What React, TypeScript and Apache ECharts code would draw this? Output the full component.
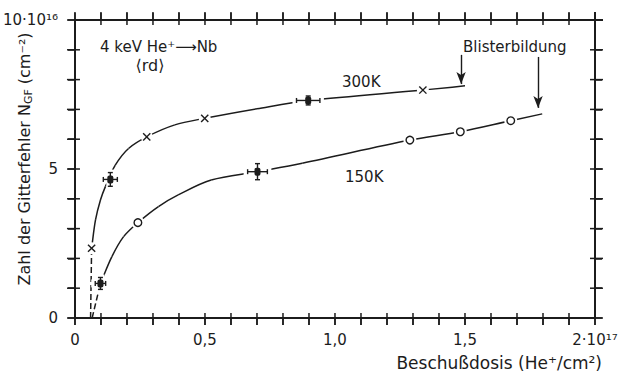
import React, { useEffect, useRef } from 'react';
import * as echarts from 'echarts';

// ---- data (x in 10^17 He+/cm², y in 10^16 cm⁻²) ----
const X_TICKS = [0, 0.5, 1, 1.5, 2];
const X_TICK_LABELS = ['0', '0,5', '1,0', '1,5', '2·10¹⁷'];
const Y_TICKS = [0, 5, 10];
const Y_TICK_LABELS = ['0', '5', '10·10¹⁶'];
const X_MINOR_STEP = 0.1;
const Y_MINOR_STEP = 1;

const K300_DASH = [[0.06, 0], [0.064, 2.34]];
const K300_CURVE = [
  [0.064, 2.34], [0.079, 3.29], [0.098, 3.96], [0.117, 4.41], [0.155, 5.13], [0.206, 5.69],
  [0.276, 6.08], [0.384, 6.48], [0.499, 6.7], [0.7, 7.02], [0.9, 7.3], [1.338, 7.65], [1.5, 7.79],
];
const K300_CROSSES = [[0.064, 2.34], [0.276, 6.08], [0.499, 6.7], [1.338, 7.65]];
const K300_ERR = [[0.136, 4.65, 0.027, 0.23], [0.897, 7.3, 0.045, 0.15]];

const K150_DASH = [[0.066, 0], [0.098, 1.16]];
const K150_CURVE = [
  [0.098, 1.16], [0.142, 2.06], [0.187, 2.73], [0.242, 3.2], [0.321, 3.74], [0.397, 4.13],
  [0.524, 4.63], [0.702, 4.91], [0.874, 5.19], [1.288, 5.97], [1.482, 6.25], [1.676, 6.62],
  [1.797, 6.85],
];
const K150_CIRCLES = [[0.242, 3.2], [1.288, 5.97], [1.482, 6.25], [1.676, 6.62]];
const K150_ERR = [[0.098, 1.16, 0.02, 0.2], [0.702, 4.91, 0.038, 0.27]];

// Blisterbildung arrows: x, yStart, yEnd
const ARROWS = [[1.485, 8.83, 7.85], [1.781, 8.76, 7.05]];

const X_MIN = 0, X_MAX = 2, Y_MIN = 0, Y_MAX = 10;
const GRID = { left: 71, right: 26, top: 20, bottom: 55 };
const W_PX = 621, H_PX = 373;
const INK = '#1c1c1c';
const FONT = 'DejaVu Sans';

function curveRenderer(pts: number[][]) {
  return (params: any, api: any) => {
    const i = params.dataIndex;
    const n = pts.length;
    if (i >= n - 1) return { type: 'group', children: [] };
    const P0 = api.coord(pts[Math.max(i - 1, 0)]);
    const P1 = api.coord(pts[i]);
    const P2 = api.coord(pts[i + 1]);
    const P3 = api.coord(pts[Math.min(i + 2, n - 1)]);
    const d = (a: number[], b: number[]) => Math.hypot(b[0] - a[0], b[1] - a[1]);
    const d01 = d(P0, P1), d12 = d(P1, P2), d23 = d(P2, P3);
    const s1 = d01 + d12 || 1, s2 = d12 + d23 || 1;
    const t1 = [(P2[0] - P0[0]) / s1, (P2[1] - P0[1]) / s1];
    const t2 = [(P3[0] - P1[0]) / s2, (P3[1] - P1[1]) / s2];
    return {
      type: 'bezierCurve',
      shape: {
        x1: P1[0], y1: P1[1], x2: P2[0], y2: P2[1],
        cpx1: P1[0] + (t1[0] * d12) / 3, cpy1: P1[1] + (t1[1] * d12) / 3,
        cpx2: P2[0] - (t2[0] * d12) / 3, cpy2: P2[1] - (t2[1] * d12) / 3,
      },
      style: { stroke: INK, lineWidth: 1.5, fill: 'none' },
    };
  };
}

export default function App() {
  const ref = useRef<HTMLDivElement>(null);
  useEffect(() => {
    document.body.style.margin = '0';
    const chart = echarts.init(ref.current!, null, { renderer: 'svg' });

    const crossRender = (params: any, api: any) => {
      const p = api.coord([api.value(0), api.value(1)]);
      const r = 3.6;
      return {
        type: 'group',
        children: [
          { type: 'circle', shape: { cx: p[0], cy: p[1], r: 6 }, style: { fill: '#fff' } },
          { type: 'line', shape: { x1: p[0] - r, y1: p[1] - r, x2: p[0] + r, y2: p[1] + r }, style: { stroke: INK, lineWidth: 1.4 } },
          { type: 'line', shape: { x1: p[0] - r, y1: p[1] + r, x2: p[0] + r, y2: p[1] - r }, style: { stroke: INK, lineWidth: 1.4 } },
        ],
      };
    };
    const circleRender = (params: any, api: any) => {
      const p = api.coord([api.value(0), api.value(1)]);
      return {
        type: 'group',
        children: [
          { type: 'circle', shape: { cx: p[0], cy: p[1], r: 6.5 }, style: { fill: '#fff' } },
          { type: 'circle', shape: { cx: p[0], cy: p[1], r: 3.8 }, style: { fill: '#fff', stroke: INK, lineWidth: 1.4 } },
        ],
      };
    };
    const errRender = (params: any, api: any) => {
      const x = api.value(0), y = api.value(1), dx = api.value(2), dy = api.value(3);
      const c = api.coord([x, y]);
      const l = api.coord([x - dx, y]);
      const r = api.coord([x + dx, y]);
      const t = api.coord([x, y + dy]);
      const b = api.coord([x, y - dy]);
      const cap = 2.5;
      const st = { stroke: INK, lineWidth: 1.4 };
      return {
        type: 'group',
        children: [
          { type: 'rect', shape: { x: l[0] - 4, y: c[1] - 4, width: r[0] - l[0] + 8, height: 8 }, style: { fill: '#fff' } },
          { type: 'rect', shape: { x: c[0] - 4, y: t[1] - 3, width: 8, height: b[1] - t[1] + 6 }, style: { fill: '#fff' } },
          { type: 'line', shape: { x1: l[0], y1: c[1], x2: r[0], y2: c[1] }, style: st },
          { type: 'line', shape: { x1: l[0], y1: c[1] - cap, x2: l[0], y2: c[1] + cap }, style: st },
          { type: 'line', shape: { x1: r[0], y1: c[1] - cap, x2: r[0], y2: c[1] + cap }, style: st },
          { type: 'line', shape: { x1: c[0], y1: t[1], x2: c[0], y2: b[1] }, style: st },
          { type: 'line', shape: { x1: c[0] - cap, y1: t[1], x2: c[0] + cap, y2: t[1] }, style: st },
          { type: 'line', shape: { x1: c[0] - cap, y1: b[1], x2: c[0] + cap, y2: b[1] }, style: st },
          { type: 'rect', shape: { x: c[0] - 3, y: c[1] - 4, width: 6, height: 8, r: 2 }, style: { fill: INK } },
        ],
      };
    };

    const axLine = () => ({ show: true, onZero: false, lineStyle: { color: INK, width: 2 } });
    const axTick = () => ({ show: true, inside: false, length: 7, lineStyle: { color: INK, width: 1.5 } });

    // pixel mapping of a data point: through the grid's own conversion, with a layout fallback
    const px = (x: number, y: number): number[] => {
      try {
        const p = chart.convertToPixel({ gridIndex: 0 } as any, [x, y]) as any;
        if (p && isFinite(p[0]) && isFinite(p[1])) return [p[0], p[1]];
      } catch (e) { /* fall through */ }
      const w = W_PX - GRID.left - GRID.right, h = H_PX - GRID.top - GRID.bottom;
      return [GRID.left + ((x - X_MIN) / (X_MAX - X_MIN)) * w, GRID.top + (1 - (y - Y_MIN) / (Y_MAX - Y_MIN)) * h];
    };

    const texts: any[] = [
      { type: 'text', x: 100, y: 47, z: 10, style: { text: '4 keV He⁺⟶Nb', fill: INK, font: `15px ${FONT}`, verticalAlign: 'middle' } },
      { type: 'text', x: 150, y: 65, z: 10, style: { text: '⟨rd⟩', fill: INK, font: `16px ${FONT}`, align: 'center', verticalAlign: 'middle' } },
      { type: 'text', x: 342, y: 82, z: 10, style: { text: '300K', fill: INK, font: `15px ${FONT}`, verticalAlign: 'middle' } },
      { type: 'text', x: 345, y: 177, z: 10, style: { text: '150K', fill: INK, font: `15px ${FONT}`, verticalAlign: 'middle' } },
      { type: 'text', x: 463, y: 47, z: 10, style: { text: 'Blisterbildung', fill: INK, font: `15px ${FONT}`, verticalAlign: 'middle' } },
      {
        type: 'text', x: 24, y: 159, rotation: Math.PI / 2, z: 10,
        style: {
          text: 'Zahl der Gitterfehler N{sub|GF} (cm⁻²)', fill: INK, font: `16px ${FONT}`,
          align: 'center', verticalAlign: 'middle', lineHeight: 20,
          rich: { sub: { fontSize: 11, fontFamily: FONT, fill: INK, verticalAlign: 'bottom', lineHeight: 14 } },
        },
      },
      {
        type: 'text', x: 602, y: 363, z: 10,
        style: { text: 'Beschußdosis (He⁺/cm²)', fill: INK, font: `17px ${FONT}`, align: 'right', verticalAlign: 'middle' },
      },
    ];

    // frame ticks on all four sides, pointing outwards, with an inner stub
    const OUT = 8, IN = 5;
    const ticks: any[] = [];
    const seg = (x1: number, y1: number, x2: number, y2: number, w = 1.5) => ({
      type: 'polyline', z: 20, shape: { points: [[x1, y1], [x2, y2]] }, style: { stroke: INK, lineWidth: w, fill: 'none' },
    });

    const baseOption: any = {
      animation: false,
      backgroundColor: '#fff',
      grid: { ...GRID, containLabel: false, show: false },
      xAxis: [
        {
          type: 'value', min: X_MIN, max: X_MAX, interval: X_MINOR_STEP, position: 'bottom',
          axisLine: axLine(), axisTick: axTick(), splitLine: { show: false },
          axisLabel: {
            margin: 14, fontSize: 15, fontFamily: FONT, color: INK, showMinLabel: true, showMaxLabel: true,
            formatter: (v: number) => {
              const i = X_TICKS.findIndex((t) => Math.abs(t - v) < 1e-6);
              return i >= 0 ? X_TICK_LABELS[i] : '';
            },
          },
        },
        {
          type: 'value', min: X_MIN, max: X_MAX, interval: X_MINOR_STEP, position: 'top',
          axisLine: axLine(), axisTick: axTick(), splitLine: { show: false }, axisLabel: { show: false },
        },
      ],
      yAxis: [
        {
          type: 'value', min: Y_MIN, max: Y_MAX, interval: Y_MINOR_STEP, position: 'left',
          axisLine: axLine(), axisTick: axTick(), splitLine: { show: false },
          axisLabel: {
            margin: 17, fontSize: 15, fontFamily: FONT, color: INK, showMinLabel: true, showMaxLabel: true,
            formatter: (v: number) => {
              const i = Y_TICKS.findIndex((t) => Math.abs(t - v) < 1e-6);
              return i >= 0 ? Y_TICK_LABELS[i] : '';
            },
          },
        },
        {
          type: 'value', min: Y_MIN, max: Y_MAX, interval: Y_MINOR_STEP, position: 'right',
          axisLine: axLine(), axisTick: axTick(), splitLine: { show: false }, axisLabel: { show: false },
        },
      ],
      series: [
        {
          type: 'line', name: '300K dashed', data: K300_DASH, symbol: 'none', showSymbol: false,
          lineStyle: { color: INK, width: 1.5, type: [6, 3] },
          markLine: {
            silent: true, animation: false, symbol: ['none', 'arrow'], symbolSize: [7, 12],
            label: { show: false },
            lineStyle: { color: INK, width: 1.4, type: 'solid' },
            data: ARROWS.map((a) => [{ coord: [a[0], a[1]] }, { coord: [a[0], a[2]] }]),
          },
        },
        { type: 'line', name: '150K dashed', data: K150_DASH, symbol: 'none', showSymbol: false, lineStyle: { color: INK, width: 1.5, type: [6, 3] } },
        { type: 'custom', name: '300K', renderItem: curveRenderer(K300_CURVE), data: K300_CURVE, z: 3 },
        { type: 'custom', name: '150K', renderItem: curveRenderer(K150_CURVE), data: K150_CURVE, z: 3 },
        { type: 'custom', name: '300K points', renderItem: crossRender, data: K300_CROSSES, z: 5 },
        { type: 'custom', name: '150K points', renderItem: circleRender, data: K150_CIRCLES, z: 5 },
        { type: 'custom', name: '300K err', renderItem: errRender, data: K300_ERR, z: 5 },
        { type: 'custom', name: '150K err', renderItem: errRender, data: K150_ERR, z: 5 },
      ],
      graphic: { elements: texts },
    };
    chart.setOption(baseOption);

    const nx = Math.round((X_MAX - X_MIN) / X_MINOR_STEP);
    for (let k = 0; k <= nx; k++) {
      const v = X_MIN + k * X_MINOR_STEP;
      const b = px(v, Y_MIN);
      const t = px(v, Y_MAX);
      ticks.push(seg(b[0], b[1] - IN, b[0], b[1] + OUT - 1));
      ticks.push(seg(t[0], t[1] + IN, t[0], t[1] - OUT));
    }
    const ny = Math.round((Y_MAX - Y_MIN) / Y_MINOR_STEP);
    for (let k = 0; k <= ny; k++) {
      const v = Y_MIN + k * Y_MINOR_STEP;
      const l = px(X_MIN, v);
      const r = px(X_MAX, v);
      ticks.push(seg(l[0] + IN, l[1], l[0] - OUT, l[1]));
      ticks.push(seg(r[0] - IN, r[1], r[0] + OUT, r[1]));
    }
    const tr = px(X_MAX, Y_MAX);
    ticks.push(seg(tr[0], tr[1], tr[0] + OUT, tr[1], 2));
    ticks.push(seg(tr[0], tr[1], tr[0], tr[1] - OUT, 2));
    chart.setOption({ graphic: { elements: [...texts, ...ticks] } });

    return () => chart.dispose();
  }, []);
  return <div ref={ref} style={{ width: W_PX, height: H_PX }} />;
}
